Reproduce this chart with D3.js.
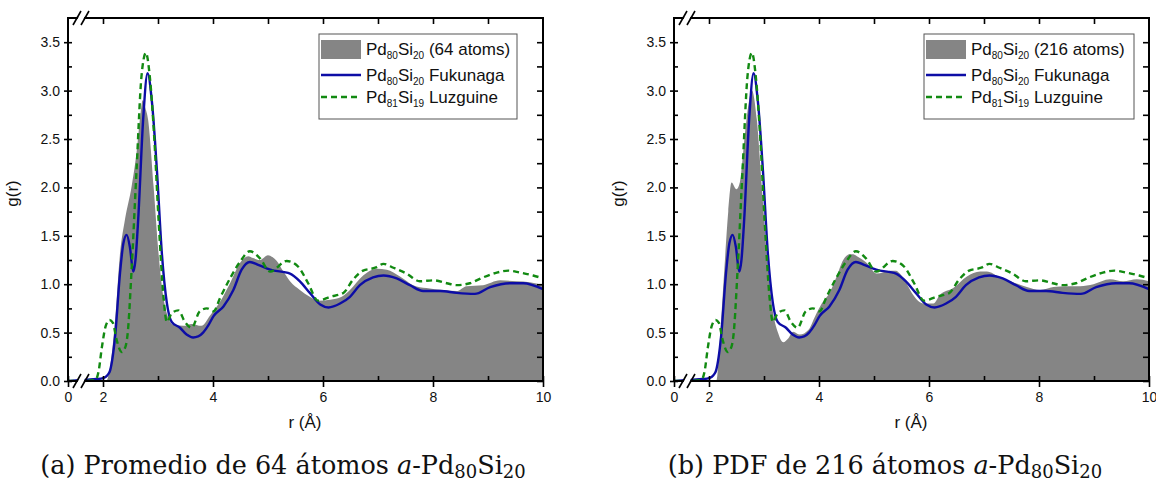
<!DOCTYPE html>
<html>
<head>
<meta charset="utf-8">
<script src="https://cdn.jsdelivr.net/npm/d3@7/dist/d3.min.js"></script>
<style>
  html, body { margin: 0; padding: 0; background: #fff; }
  svg { display: block; }
</style>
</head>
<body>
<svg id="chart" width="1156" height="481"></svg>
<script>
// ---------------- DATA ----------------
const xTickLabels = ["0", "2", "4", "6", "8", "10"];
const xTickValues = [0, 2, 4, 6, 8, 10];
const xMinorValues = [3, 5, 7, 9];
const xTopValues = [2, 3, 4, 5, 6, 7, 8, 9];
const yTickValues = [0, 0.5, 1, 1.5, 2, 2.5, 3, 3.5];
const yTickLabels = ["0.0", "0.5", "1.0", "1.5", "2.0", "2.5", "3.0", "3.5"];
const yMinorValues = [0.25, 0.75, 1.25, 1.75, 2.25, 2.75, 3.25];

// Fukunaga experimental g(r)  [r, g]
const fukunaga = [[0,0.0],[1.6,0.01],[1.9,0.02],[2.0,0.03],[2.08,0.06],[2.13,0.11],[2.22,0.46],[2.31,1.12],[2.37,1.42],[2.43,1.51],[2.49,1.38],[2.55,1.13],[2.59,1.25],[2.64,1.67],[2.73,2.70],[2.81,3.18],[2.89,2.88],[2.98,2.18],[3.07,1.32],[3.16,0.81],[3.25,0.61],[3.40,0.55],[3.52,0.48],[3.64,0.45],[3.73,0.46],[3.82,0.50],[3.92,0.58],[4.01,0.67],[4.19,0.77],[4.37,0.94],[4.52,1.15],[4.67,1.23],[4.82,1.20],[5.04,1.15],[5.40,1.11],[5.58,1.03],[5.76,0.91],[5.95,0.79],[6.10,0.76],[6.31,0.80],[6.49,0.87],[6.67,0.99],[6.91,1.07],[7.10,1.09],[7.34,1.06],[7.58,0.99],[7.82,0.93],[8.13,0.93],[8.43,0.91],[8.76,0.90],[9.04,0.97],[9.40,1.01],[9.64,1.01],[10,0.95]];

// Luzguine experimental g(r)  [r, g]
const luzguine = [[0,0],[1.6,0],[1.86,0.01],[1.92,0.1],[1.98,0.35],[2.05,0.57],[2.12,0.63],[2.18,0.60],[2.25,0.42],[2.34,0.30],[2.40,0.34],[2.45,0.50],[2.52,1.15],[2.61,2.18],[2.70,3.15],[2.78,3.39],[2.85,3.15],[2.93,2.53],[3.01,1.67],[3.10,0.87],[3.16,0.61],[3.25,0.70],[3.37,0.73],[3.49,0.61],[3.61,0.55],[3.76,0.72],[3.89,0.75],[4.01,0.72],[4.13,0.86],[4.31,1.06],[4.49,1.23],[4.67,1.34],[4.85,1.27],[5.04,1.13],[5.34,1.24],[5.55,1.18],[5.73,1.01],[5.91,0.83],[6.13,0.87],[6.37,0.91],[6.55,1.05],[6.73,1.14],[6.95,1.17],[7.10,1.21],[7.28,1.17],[7.52,1.11],[7.76,1.03],[8.01,1.04],[8.25,1.01],[8.43,0.99],[8.67,1.01],[8.91,1.07],[9.16,1.12],[9.37,1.14],[9.58,1.12],[9.82,1.09],[10,1.06]];

// Simulation, average of 64 atoms  [r, g]
const sim64 = [[0,0],[2.06,0],[2.09,0.04],[2.13,0.15],[2.22,0.63],[2.31,1.32],[2.40,1.67],[2.52,2.01],[2.61,2.36],[2.68,2.75],[2.72,2.90],[2.77,2.82],[2.82,2.70],[2.92,2.01],[3.01,1.32],[3.07,0.98],[3.16,0.70],[3.28,0.58],[3.46,0.57],[3.61,0.59],[3.79,0.57],[3.95,0.68],[4.13,0.82],[4.31,1.01],[4.49,1.22],[4.64,1.29],[4.73,1.27],[4.85,1.25],[5.0,1.30],[5.08,1.28],[5.16,1.24],[5.28,1.13],[5.40,1.03],[5.58,0.94],[5.76,0.87],[5.91,0.83],[6.13,0.84],[6.34,0.87],[6.49,0.94],[6.73,1.09],[6.98,1.16],[7.16,1.15],[7.40,1.08],[7.64,0.99],[7.88,0.96],[8.19,0.94],[8.43,0.93],[8.61,0.98],[8.91,0.99],[9.22,1.04],[9.52,1.03],[9.76,1.02],[10,0.99]];

// Simulation, PDF of 216 atoms  [r, g]
const sim216 = [[0,0],[2.13,0],[2.15,0.05],[2.20,0.45],[2.29,1.25],[2.35,1.75],[2.41,2.05],[2.50,1.98],[2.56,2.05],[2.65,2.53],[2.73,2.90],[2.78,3.00],[2.87,2.70],[2.96,2.01],[3.05,1.32],[3.14,0.80],[3.26,0.49],[3.35,0.40],[3.44,0.44],[3.53,0.51],[3.65,0.48],[3.81,0.53],[3.93,0.67],[4.05,0.80],[4.20,0.92],[4.32,1.08],[4.44,1.25],[4.56,1.31],[4.62,1.31],[4.69,1.29],[4.87,1.22],[5.05,1.11],[5.29,1.14],[5.40,1.14],[5.47,1.11],[5.59,1.01],[5.71,0.89],[5.90,0.80],[6.08,0.80],[6.20,0.89],[6.44,0.96],[6.69,1.08],[6.93,1.13],[7.05,1.13],[7.29,1.07],[7.53,1.02],[7.78,0.97],[8.02,0.94],[8.26,0.97],[8.50,0.98],[8.75,0.98],[8.99,1.00],[9.29,1.05],[9.53,1.03],[9.78,1.05],[10,1.03]];

const simLabels = ["(64 atoms)", "(216 atoms)"];
const captionPrefixes = ["(a) Promedio de 64 átomos ", "(b) PDF de 216 átomos "];
const xTitle = "r (Å)";
const yTitle = "g(r)";

// ---------------- DRAW ----------------
const svg = d3.select("#chart");
const FONT = "'Liberation Sans', Arial, sans-serif";
const SERIF = "'DejaVu Serif', 'Liberation Serif', serif";
const GRAY = "#858585", BLUE = "#0d0da6", GREEN = "#128a12";

const panels = [
  { left: 68, sim: sim64, label: simLabels[0], caption: captionPrefixes[0], legendX: 319, legendW: 198, capX: 283 },
  { left: 674, sim: sim216, label: simLabels[1], caption: captionPrefixes[1], legendX: 924, legendW: 210, capX: 885 }
];
const W = 475, TOP = 18, BOTTOM = 381;

panels.forEach((p, idx) => {
  const g = svg.append("g");
  const x = d3.scaleLinear().domain([0, 1.6, 10]).range([p.left, p.left + 13, p.left + W]);
  const y = d3.scaleLinear().domain([0, 3.75]).range([BOTTOM, TOP]);
  const clipId = "clip" + idx;
  svg.append("clipPath").attr("id", clipId).append("rect")
    .attr("x", p.left).attr("y", TOP).attr("width", W).attr("height", BOTTOM - TOP);

  const area = d3.area().x(d => x(d[0])).y0(y(0)).y1(d => y(d[1])).curve(d3.curveMonotoneX);
  const line = d3.line().x(d => x(d[0])).y(d => y(d[1])).curve(d3.curveMonotoneX);

  const plot = g.append("g").attr("clip-path", `url(#${clipId})`);
  plot.append("path").datum(p.sim).attr("d", area).attr("fill", GRAY);
  plot.append("path").datum(fukunaga).attr("d", line).attr("fill", "none")
    .attr("stroke", BLUE).attr("stroke-width", 2.4);
  plot.append("path").datum(luzguine).attr("d", line).attr("fill", "none")
    .attr("stroke", GREEN).attr("stroke-width", 2.4).attr("stroke-dasharray", "6,4");

  // axes
  const bottomMajor = d3.axisBottom(x).tickValues(xTickValues).tickFormat((d, i) => xTickLabels[i]).tickSizeInner(5).tickSizeOuter(0).tickPadding(6);
  const ab = g.append("g").attr("transform", `translate(0,${BOTTOM})`).call(bottomMajor);
  ab.selectAll(".tick line").attr("y1", -5).attr("y2", 6);
  const bottomMinor = d3.axisBottom(x).tickValues(xMinorValues).tickFormat("").tickSizeInner(-5).tickSizeOuter(0);
  g.append("g").attr("transform", `translate(0,${BOTTOM})`).call(bottomMinor);
  const topAxis = d3.axisTop(x).tickValues(xTopValues).tickFormat("").tickSizeInner(-6).tickSizeOuter(0);
  g.append("g").attr("transform", `translate(0,${TOP})`).call(topAxis);

  const leftMajor = d3.axisLeft(y).tickValues(yTickValues).tickFormat((d, i) => yTickLabels[i]).tickSizeInner(4).tickSizeOuter(0).tickPadding(4);
  const al = g.append("g").attr("transform", `translate(${p.left},0)`).call(leftMajor);
  al.selectAll(".tick line").attr("x1", 4).attr("x2", -4);
  const leftMinor = d3.axisLeft(y).tickValues(yMinorValues).tickFormat("").tickSizeInner(-4).tickSizeOuter(0);
  g.append("g").attr("transform", `translate(${p.left},0)`).call(leftMinor);
  const rightAxis = d3.axisRight(y).tickValues(yTickValues.concat(yMinorValues)).tickFormat("").tickSizeInner(-6).tickSizeOuter(0);
  g.append("g").attr("transform", `translate(${p.left + W},0)`).call(rightAxis);

  g.selectAll(".domain").remove();
  g.selectAll(".tick line").attr("stroke", "#000").attr("stroke-width", 1.6);
  g.selectAll(".tick text").attr("font-family", FONT).attr("font-size", 14).attr("fill", "#111");

  // frame
  g.append("rect").attr("x", p.left).attr("y", TOP).attr("width", W).attr("height", BOTTOM - TOP)
    .attr("fill", "none").attr("stroke", "#000").attr("stroke-width", 2);

  // axis break marks
  const bx = x(1.6);
  [TOP, BOTTOM].forEach(yy => {
    g.append("polygon")
      .attr("points", `${bx - 5},${yy + 6} ${bx - 1},${yy - 6} ${bx + 5},${yy - 6} ${bx + 1},${yy + 6}`)
      .attr("fill", "#fff");
    [-4, 4].forEach(o => {
      g.append("line").attr("x1", bx + o - 4).attr("y1", yy + 7).attr("x2", bx + o + 4).attr("y2", yy - 7)
        .attr("stroke", "#000").attr("stroke-width", 1.6);
    });
  });

  // titles
  g.append("text").attr("x", (x(2) + x(10)) / 2 - 18).attr("y", 428).attr("text-anchor", "middle")
    .attr("font-family", FONT).attr("font-size", 17).attr("fill", "#111").text(xTitle);
  g.append("text").attr("transform", `translate(${p.left - 50},${(TOP + BOTTOM) / 2 - 6}) rotate(-90)`)
    .attr("text-anchor", "middle").attr("font-family", FONT).attr("font-size", 17).attr("fill", "#111").text(yTitle);

  // legend
  const lg = g.append("g");
  lg.append("rect").attr("x", p.legendX).attr("y", 34).attr("width", p.legendW).attr("height", 85)
    .attr("fill", "#fff").attr("stroke", "#555").attr("stroke-width", 1);
  const rows = [
    { kind: "fill", a: "80", b: "20", rest: " " + p.label, cy: 49 },
    { kind: "line", a: "80", b: "20", rest: " Fukunaga", cy: 75 },
    { kind: "dash", a: "81", b: "19", rest: " Luzguine", cy: 97 }
  ];
  rows.forEach(r => {
    const sx = p.legendX + 2;
    if (r.kind === "fill") {
      lg.append("rect").attr("x", sx).attr("y", r.cy - 9).attr("width", 40).attr("height", 19).attr("fill", GRAY);
    } else {
      lg.append("line").attr("x1", sx).attr("x2", sx + 40).attr("y1", r.cy).attr("y2", r.cy)
        .attr("stroke", r.kind === "line" ? BLUE : GREEN).attr("stroke-width", 2.4)
        .attr("stroke-dasharray", r.kind === "dash" ? "6,4" : null);
    }
    const t = lg.append("text").attr("x", sx + 45).attr("y", r.cy + 6)
      .attr("font-family", FONT).attr("font-size", 17).attr("fill", "#111");
    t.append("tspan").text("Pd");
    t.append("tspan").attr("font-size", 10).attr("dy", 4).text(r.a);
    t.append("tspan").attr("dy", -4).text("Si");
    t.append("tspan").attr("font-size", 10).attr("dy", 4).text(r.b);
    t.append("tspan").attr("dy", -4).text(r.rest);
  });

  // caption
  const c = g.append("text").attr("x", p.capX).attr("y", 474).attr("text-anchor", "middle")
    .attr("font-family", SERIF).attr("font-size", 25.5).attr("fill", "#111");
  c.append("tspan").text(p.caption);
  c.append("tspan").attr("font-style", "italic").text("a");
  c.append("tspan").text("-Pd");
  c.append("tspan").attr("font-size", 18).attr("dy", 4).text("80");
  c.append("tspan").attr("dy", -4).text("Si");
  c.append("tspan").attr("font-size", 18).attr("dy", 4).text("20");
});
</script>
</body>
</html>
